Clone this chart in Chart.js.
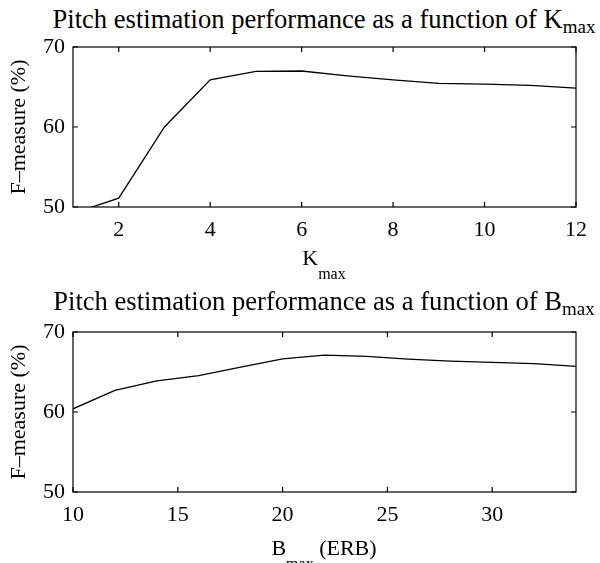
<!DOCTYPE html>
<html lang="en">
<head>
    <title>Pitch estimation performance</title>
    <script src="https://cdn.jsdelivr.net/npm/chart.js@4"></script>
    <style>
        body { margin: 0; width: 600px; height: 563px; overflow: hidden; background: #fff; position: relative; }
        canvas { position: absolute; left: 0; }
        .lbl { position: absolute; left: 0; width: 648px; text-align: center; color: #000;
               font-family: "Liberation Serif", "Times New Roman", serif; white-space: nowrap; }
        .ttl { font-size: 26.6px; line-height: 26px; }
        .xl { font-size: 22px; line-height: 22px; }
        .sub { line-height: 0; }
    </style>
</head>
<body>

    <div class="lbl ttl" style="top:6px">Pitch estimation performance as a function of K<span class="sub" style="font-size:19px;vertical-align:-5px">max</span></div>
    <canvas id="kChart" width="600" height="280" style="top:0"></canvas>
    <div class="lbl xl" style="top:247px">K<span class="sub" style="font-size:16px;vertical-align:-14px">max</span></div>

    <div class="lbl ttl" style="top:288px">Pitch estimation performance as a function of B<span class="sub" style="font-size:19px;vertical-align:-5px">max</span></div>
    <canvas id="bChart" width="600" height="280" style="top:285px"></canvas>
    <div class="lbl xl" style="top:537px">B<span class="sub" style="font-size:16px;vertical-align:-14px">max</span> (ERB)</div>

    <script>
        // values
        var kmax = [1, 2, 3, 4, 5, 6, 7, 8, 9, 10, 11, 12];
        var kmaxF = [49.2, 51.1, 60.0, 65.9, 66.95, 67.0, 66.4, 65.9, 65.45, 65.35, 65.2, 64.85];
        var kTicks = [2, 4, 6, 8, 10, 12];

        var bmax = [10, 12, 14, 16, 18, 20, 22, 24, 26, 28, 30, 32, 34];
        var bmaxF = [60.4, 62.7, 63.9, 64.55, 65.6, 66.65, 67.1, 66.95, 66.6, 66.35, 66.2, 66.05, 65.7];
        var bTicks = [10, 15, 20, 25, 30];

        var yTicks = [50, 60, 70];

        var serif = "'Liberation Serif', 'Times New Roman', serif";

        // matlab style box with inward ticks
        var boxPlugin = {
            id: 'box',
            afterDraw(chart) {
                var ctx = chart.ctx, a = chart.chartArea;
                var x = chart.scales.x, y = chart.scales.y;
                ctx.save();
                ctx.strokeStyle = '#000';
                ctx.lineWidth = 1.2;
                ctx.strokeRect(a.left, a.top, a.right - a.left, a.bottom - a.top);
                ctx.beginPath();
                x.ticks.forEach(t => {
                    var px = x.getPixelForValue(t.value);
                    ctx.moveTo(px, a.bottom); ctx.lineTo(px, a.bottom - 5);
                    ctx.moveTo(px, a.top); ctx.lineTo(px, a.top + 5);
                });
                y.ticks.forEach(t => {
                    var py = y.getPixelForValue(t.value);
                    ctx.moveTo(a.left, py); ctx.lineTo(a.left + 5, py);
                    ctx.moveTo(a.right, py); ctx.lineTo(a.right - 5, py);
                });
                ctx.stroke();
                ctx.restore();
            }
        };

        function makeChart(id, xs, ys, xmin, xmax, xticks) {
            return new Chart(id, {
                type: 'line',
                data: {
                    datasets: [{
                        data: xs.map((v, i) => ({x: v, y: ys[i]})),
                        borderColor: '#000',
                        borderWidth: 1.3,
                        pointRadius: 0,
                        fill: false,
                        tension: 0
                    }]
                },
                options: {
                    responsive: false,
                    animation: false,
                    layout: { padding: { top: 47, right: 24, left: 0, bottom: 0 } },
                    plugins: { legend: { display: false }, tooltip: { enabled: false } },
                    scales: {
                        x: {
                            type: 'linear',
                            min: xmin,
                            max: xmax,
                            afterBuildTicks: s => { s.ticks = xticks.map(v => ({value: v})); },
                            afterFit: s => { s.height = 73; },
                            grid: { display: false, drawTicks: false },
                            border: { display: false },
                            ticks: { color: '#000', font: { family: serif, size: 22 }, padding: 10, maxRotation: 0, autoSkip: false }
                        },
                        y: {
                            min: 50,
                            max: 70,
                            afterBuildTicks: s => { s.ticks = yTicks.map(v => ({value: v})); },
                            afterFit: s => { s.width = 73; },
                            grid: { display: false, drawTicks: false },
                            border: { display: false },
                            ticks: { color: '#000', font: { family: serif, size: 22 }, padding: 8 },
                            title: {
                                display: true,
                                text: 'F–measure (%)',
                                color: '#000',
                                font: { family: serif, size: 22 },
                                padding: { top: 6, bottom: 0 }
                            }
                        }
                    }
                },
                plugins: [boxPlugin]
            });
        }

        makeChart('kChart', kmax, kmaxF, 1, 12, kTicks);
        makeChart('bChart', bmax, bmaxF, 10, 34, bTicks);
    </script>
</body>
</html>
